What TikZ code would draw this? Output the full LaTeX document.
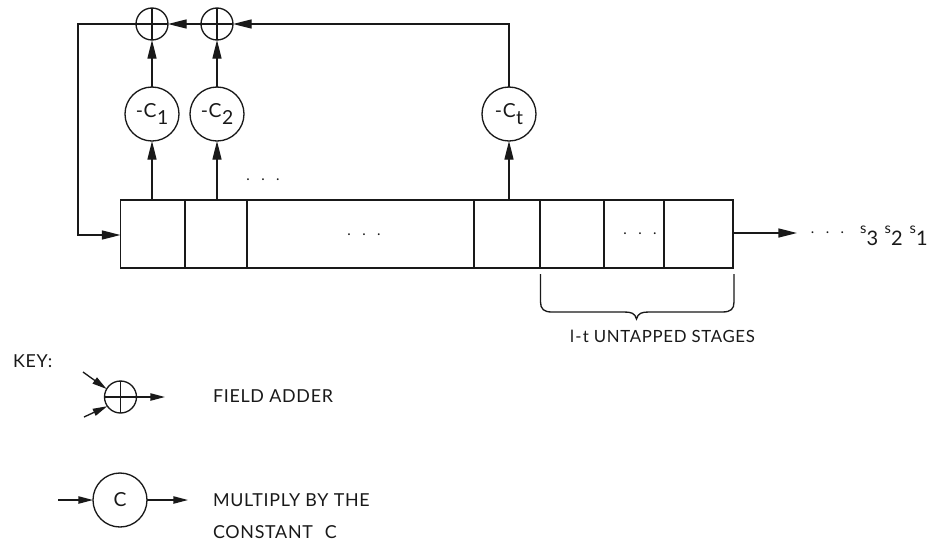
\documentclass[tikz,border=0pt]{standalone}
\usepackage{fontspec}
\setmainfont{Lato}[LetterSpace=4]
\usetikzlibrary{arrows.meta,calc}
\newcommand\tdots{.\kern 8.6pt.\kern 8.6pt.}
\newcommand\sdig[1]{\raisebox{9pt}{\fontsize{11}{12}\selectfont s}\kern 0.2pt#1}
\newcommand\csub[1]{-C\kern 0.3pt\raisebox{-5pt}{#1}}
\tikzset{
  x=0.75pt,y=-0.75pt,
  every node/.style={font=\fontsize{12.6}{14}\selectfont,text=black!90},
  wire/.style={line width=1pt,draw=black!90},
  arr/.style={wire,-{Triangle[length=14pt,width=6.8pt,sep=0pt]}},
  arrs/.style={wire,-{Triangle[length=11pt,width=5.5pt,sep=0pt]}},
  cell/.style={draw=black!90,line width=1pt,rectangle,minimum height=51pt,inner sep=0pt,outer sep=0pt},
  addr/.style={draw=black!90,line width=1pt,circle,minimum size=24pt,inner sep=0pt,outer sep=0pt},
  mult/.style={draw=black!90,line width=1pt,circle,minimum size=40.5pt,inner sep=0pt,outer sep=0pt,font=\fontsize{14.5}{16}\selectfont},
  lbl/.style={inner sep=0pt,outer sep=0pt,anchor=west},
  keylbl/.style={lbl,font=\fontsize{13.4}{14}\selectfont},
  dotsn/.style={inner sep=0pt,outer sep=0pt,anchor=base,font=\fontsize{11}{12}\selectfont},
  outd/.style={lbl,font=\fontsize{15}{16}\selectfont},
}
\begin{document}
\begin{tikzpicture}
\useasboundingbox (0,0) rectangle (929,544);
% register
\node[cell,minimum width=48.4pt]  (c1) at (152.75,234) {};
\node[cell,minimum width=46.5pt]  (c2) at (216,234) {};
\node[cell,minimum width=170.25pt] (c3) at (360.5,234) {};
\node[cell,minimum width=49.5pt] (c4) at (507,234) {};
\node[cell,minimum width=48pt]  (c5) at (572,234) {};
\node[cell,minimum width=45pt]  (c6) at (634,234) {};
\node[cell,minimum width=51.75pt] (c7) at (698.5,234) {};
% multipliers and adders
\node[mult] (m1) at (152,114) {\csub{1}};
\node[mult] (m2) at (217,114) {\csub{2}};
\node[mult] (mt) at (509,114) {\csub{t}};
\node[addr] (a1) at (152,24) {};
\node[addr] (a2) at (217,24) {};
\draw[wire] (a1.north) -- (a1.south);
\draw[wire] (a1.west) -- (a1.east);
\draw[wire] (a2.north) -- (a2.south);
\draw[wire] (a2.west) -- (a2.east);
% connectors
\draw[arr] (c1.north -| m1.south) -- (m1.south);
\draw[arr] (c2.north -| m2.south) -- (m2.south);
\draw[arr] (c4.north -| mt.south) -- (mt.south);
\draw[arr] (m1.north) -- (a1.south);
\draw[arr] (m2.north) -- (a2.south);
\draw[arr] (a2.west) -- (a1.east);
\draw[arr] (mt.north) |- (a2.east);
\coordinate (fb1) at (78,24);
\coordinate (fb2) at (78,235);
\draw[arr] (a1.west) -- (fb1) -- (fb2) -- (fb2 -| c1.west);
\coordinate (outend) at (797,233);
\draw[arr] (outend -| c7.east) -- (outend);
% dots and output
\node[dotsn] (d1) at (263,180.5) {\tdots};
\node[dotsn] (d2) at (364,235.5) {\tdots};
\node[dotsn] (d3) at (640,234.5) {\tdots};
\node[dotsn] (d4) at (827.5,233.5) {\tdots};
\node[outd] (s3) at (860,236) {\sdig{3}};
\node[outd] (s2) at (884.5,236) {\sdig{2}};
\node[outd] (s1) at (909.5,236) {\sdig{1}};
% brace
\coordinate (bl) at (540.5,274);
\coordinate (br) at (734,274);
\coordinate (bt) at (636.5,319);
\draw[wire] (bl) -- (540.5,302) .. controls (540.5,309) and (544,312) .. (552,312) -- (624,312)
  .. controls (631,312) and (635,313) .. (bt) .. controls (638,313) and (642,312) .. (649,312) -- (722,312)
  .. controls (731,312) and (734,309) .. (734,302) -- (br);
\node[lbl] (un) at (570,336) {l\kern 1pt-\kern 1pt t  UNTAPPED STAGES};
% key
\node[keylbl] (key) at (13,361) {KEY:};
\node[addr] (ka) at (120.5,397) {};
\draw[wire] (ka.north) -- (ka.south);
\draw[wire] (ka.west) -- (ka.east);
\coordinate (ki1) at (83,372);
\coordinate (ki2) at (84,417);
\coordinate (kao) at (165,397);
\draw[arrs] (ki1) -- (ka.150);
\draw[arrs] (ki2) -- (ka.215);
\draw[arrs] (ka.east) -- (kao);
\node[keylbl] (kat) at (213,396) {FIELD ADDER};
\node[mult] (kc) at (120,500) {C};
\coordinate (kci) at (58,500);
\coordinate (kco) at (188,500);
\draw[arrs] (kci) -- (kc.west);
\draw[arrs] (kc.east) -- (kco);
\node[keylbl] (kt1) at (213,500) {MULTIPLY BY THE};
\node[keylbl] (kt2) at (213,532) {CONSTANT\hspace{5pt} C};
\end{tikzpicture}
\end{document}
